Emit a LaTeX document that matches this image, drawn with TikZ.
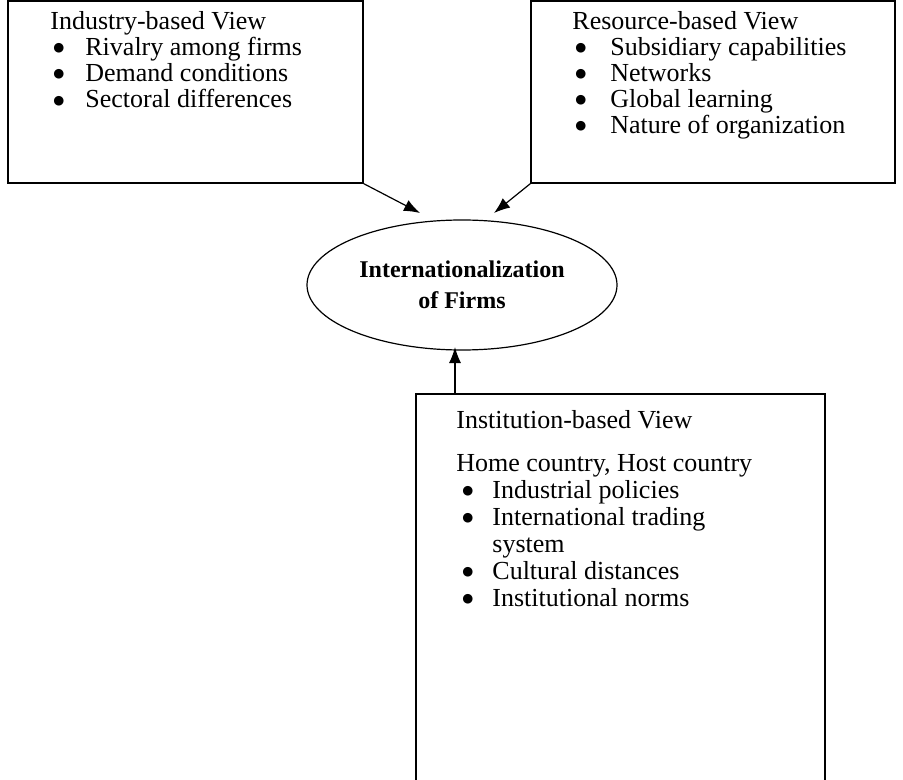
\documentclass[tikz,border=0pt]{standalone}
\usepackage{fontspec}
\setmainfont{Liberation Serif}
\newfontfamily\dotfont{DejaVu Sans}
\usetikzlibrary{arrows.meta,shapes.geometric}
\tikzset{
  viewbox/.style={draw, line width=0.6pt, inner sep=0pt},
  viewtext/.style={anchor=north west, inner sep=0pt, align=left},
  link/.style={-{Latex[length=8pt,width=6pt]}, line width=0.6pt},
}
\newcommand{\viewitem}{\hspace{1.5pt}\raisebox{1.9pt}{\dotfont\fontsize{6.3}{6.3}\selectfont ●}}
\begin{document}
\begin{tikzpicture}[x=0.5pt,y=-0.5pt]
      \useasboundingbox (0,0) rectangle (903,780);
      \clip (0,0) rectangle (903,780);
      \draw
        (185.5,92) node[viewbox, minimum width=177.5pt, minimum height=91pt] (industry){}
        (713,92) node[viewbox, minimum width=182pt, minimum height=91pt] (resource){}
        (462,285) node[ellipse, draw, line width=0.6pt, minimum width=155pt, minimum height=65pt,
          align=center, font=\bfseries\fontsize{12}{15.5}\selectfont] (firms){Internationalization\\of Firms}
        (620.5,597) node[viewbox, minimum width=204.5pt, minimum height=203pt] (institution){};
      \node[viewtext, font=\fontsize{13}{13}\selectfont] (industryText) at (50,11)
        {\begin{tabular}{@{}p{17.5pt}@{}l@{}}
          \multicolumn{2}{@{}l@{}}{Industry-based View}\\
          \viewitem & Rivalry among firms\\
          \viewitem & Demand conditions\\
          \viewitem & Sectoral differences
        \end{tabular}};
      \node[viewtext, font=\fontsize{13}{13}\selectfont] (resourceText) at (572,11)
        {\begin{tabular}{@{}p{19pt}@{}l@{}}
          \multicolumn{2}{@{}l@{}}{Resource-based View}\\
          \viewitem & Subsidiary capabilities\\
          \viewitem & Networks\\
          \viewitem & Global learning\\
          \viewitem & Nature of organization
        \end{tabular}};
      \node[viewtext, font=\fontsize{13}{13.5}\selectfont] (institutionText) at (456,409)
        {\begin{tabular}{@{}p{18pt}@{}l@{}}
          \multicolumn{2}{@{}l@{}}{Institution-based View}\\[8pt]
          \multicolumn{2}{@{}l@{}}{Home country, Host country}\\
          \hspace{1.5pt}\viewitem & Industrial policies\\
          \hspace{1.5pt}\viewitem & International trading\\
                    & system\\
          \hspace{1.5pt}\viewitem & Cultural distances\\
          \hspace{1.5pt}\viewitem & Institutional norms
        \end{tabular}};
      \coordinate (industryTip) at (420,213);
      \coordinate (resourceTip) at (494,213);
      \coordinate (institutionTip) at (455,347);
      \begin{scope}[link]
        \draw (industry.south east) to (industryTip);
        \draw (resource.south west) to (resourceTip);
        \draw (institution.north -| institutionTip) to (institutionTip);
      \end{scope}
    \end{tikzpicture}
\end{document}
